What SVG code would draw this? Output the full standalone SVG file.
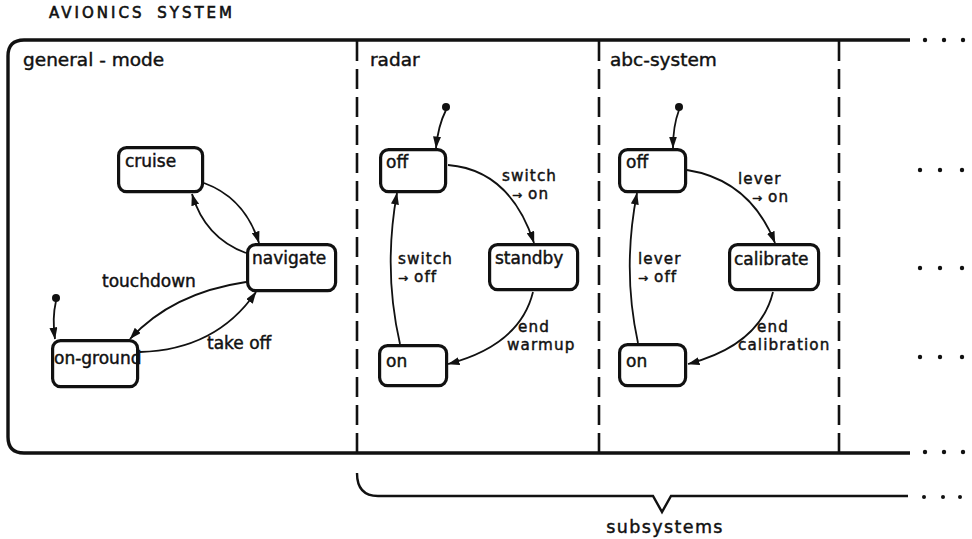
<svg xmlns="http://www.w3.org/2000/svg" width="972" height="539" viewBox="0 0 972 539">
<defs>
<style>
text{font-family:"DejaVu Sans","Liberation Sans",sans-serif;fill:#111;stroke:#111;stroke-width:0.45px;}
.title{font-size:15px;letter-spacing:3px;word-spacing:5px;stroke-width:0.6px;}
.region{font-size:18.5px;}
.st{font-size:17px;}
.lb{font-size:17px;}
.lb2{font-size:15.2px;letter-spacing:1.1px;}
.ar{font-size:12px;letter-spacing:0;}
.box{fill:#fff;stroke:#111;stroke-width:3.2;}
.frame{fill:none;stroke:#111;stroke-width:3.4;}
.dash{fill:none;stroke:#111;stroke-width:2.6;stroke-dasharray:20 8;}
.conn{fill:none;stroke:#111;stroke-width:1.8;marker-end:url(#ah);}
.brace{fill:none;stroke:#111;stroke-width:2.4;}
.dot{fill:#111;}
</style>
<marker id="ah" viewBox="0 0 12 8" refX="11.5" refY="4" markerWidth="12" markerHeight="8" orient="auto" markerUnits="userSpaceOnUse">
<path d="M0,0 L12,4 L0,8 z" fill="#111"/>
</marker>
</defs>
<rect width="972" height="539" fill="#fff"/>

<text class="title" x="49" y="18">AVIONICS SYSTEM</text>

<g id="avionics-system">
<path class="frame" d="M910 40 H24 Q8 40 8 56 V437 Q8 453 24 453 H910"/>
<g class="dot">
<circle cx="925" cy="40" r="2.2"/><circle cx="944" cy="40" r="2.2"/><circle cx="963" cy="40" r="2.2"/>
<circle cx="920" cy="170" r="2.2"/><circle cx="940" cy="170" r="2.2"/><circle cx="962" cy="170" r="2.2"/>
<circle cx="920" cy="268" r="2.2"/><circle cx="940" cy="268" r="2.2"/><circle cx="962" cy="268" r="2.2"/>
<circle cx="920" cy="357" r="2.2"/><circle cx="940" cy="357" r="2.2"/><circle cx="962" cy="357" r="2.2"/>
<circle cx="925" cy="452" r="2.2"/><circle cx="944" cy="452" r="2.2"/><circle cx="963" cy="452" r="2.2"/>
</g>
</g>

<g id="region-dividers">
<line class="dash" x1="357" y1="41" x2="357" y2="452"/>
<line class="dash" x1="599" y1="41" x2="599" y2="452"/>
<line class="dash" x1="839" y1="41" x2="839" y2="452"/>
</g>

<g id="general-mode"><text class="region" x="23" y="66">general - mode</text></g>
<g id="radar"><text class="region" x="370" y="66">radar</text></g>
<g id="abc-system"><text class="region" x="610" y="66">abc-system</text></g>

<g id="cruise"><rect class="box" x="118.6" y="147.6" width="84" height="44" rx="8"/><text class="st" x="125" y="167">cruise</text></g>
<g id="navigate"><rect class="box" x="247.6" y="244.6" width="88" height="46" rx="8"/><text class="st" x="252" y="264">navigate</text></g>
<g id="on-ground"><rect class="box" x="52.6" y="340.6" width="85" height="46" rx="8"/><text class="st" x="54" y="364">on-ground</text></g>
<g id="general-init"><circle class="dot" cx="56" cy="298" r="4"/></g>

<g id="radar-off"><rect class="box" x="380.6" y="149.6" width="65" height="42" rx="8"/><text class="st" x="386" y="168">off</text></g>
<g id="standby"><rect class="box" x="489.6" y="244.6" width="88" height="45" rx="8"/><text class="st" x="495" y="264">standby</text></g>
<g id="radar-on"><rect class="box" x="379.6" y="345.6" width="67" height="40" rx="8"/><text class="st" x="386" y="367">on</text></g>
<g id="radar-init"><circle class="dot" cx="446" cy="107" r="4"/></g>

<g id="abc-off"><rect class="box" x="619.6" y="149.6" width="66" height="42" rx="8"/><text class="st" x="626" y="168">off</text></g>
<g id="calibrate"><rect class="box" x="729.6" y="244.6" width="89" height="45" rx="8"/><text class="st" x="734" y="265">calibrate</text></g>
<g id="abc-on"><rect class="box" x="619.6" y="344.6" width="66" height="41" rx="8"/><text class="st" x="626" y="367">on</text></g>
<g id="abc-init"><circle class="dot" cx="679" cy="107" r="4"/></g>

<g id="connectors">
<path class="conn" d="M56 301 Q52 318 55 339"/>
<path class="conn" d="M204 183 Q245 198 259 243"/>
<path class="conn" d="M246 253 Q205 238 192 194"/>
<path class="conn" d="M246 282 Q172 293 130 339"/>
<path class="conn" d="M140 352 Q216 350 256 292"/>

<path class="conn" d="M446 110 Q438 126 436 148"/>
<path class="conn" d="M448 165 Q510 170 534 243"/>
<path class="conn" d="M533 292 Q520 345 448 364"/>
<path class="conn" d="M400 344 Q383 270 397 193"/>

<path class="conn" d="M679 110 Q673 126 673 148"/>
<path class="conn" d="M687 170 Q750 180 775 243"/>
<path class="conn" d="M773 292 Q760 345 688 364"/>
<path class="conn" d="M638 343 Q622 270 637 193"/>
</g>

<g id="labels">
<text class="lb" x="102" y="287">touchdown</text>
<text class="lb" x="207" y="349">take off</text>
<text class="lb2" x="502" y="181">switch<tspan x="512" dy="18"><tspan class="ar">→</tspan> on</tspan></text>
<text class="lb2" x="398" y="264">switch<tspan x="398" dy="18"><tspan class="ar">→</tspan> off</tspan></text>
<text class="lb2" x="518" y="332">end<tspan x="507" dy="18">warmup</tspan></text>
<text class="lb2" x="738" y="184">lever<tspan x="752" dy="18"><tspan class="ar">→</tspan> on</tspan></text>
<text class="lb2" x="638" y="264">lever<tspan x="638" dy="18"><tspan class="ar">→</tspan> off</tspan></text>
<text class="lb2" x="757" y="332">end<tspan x="738" dy="18">calibration</tspan></text>
</g>

<g id="subsystems">
<path class="brace" d="M357 473 Q357 496 378 496 H653 L662 512 L671 496 H908"/>
<g class="dot"><circle cx="924" cy="497" r="2"/><circle cx="943" cy="497" r="2"/><circle cx="960" cy="497" r="2"/></g>
<text class="lb" x="665" y="533" text-anchor="middle" style="font-size:17.5px;letter-spacing:1.4px">subsystems</text>
</g>
</svg>
